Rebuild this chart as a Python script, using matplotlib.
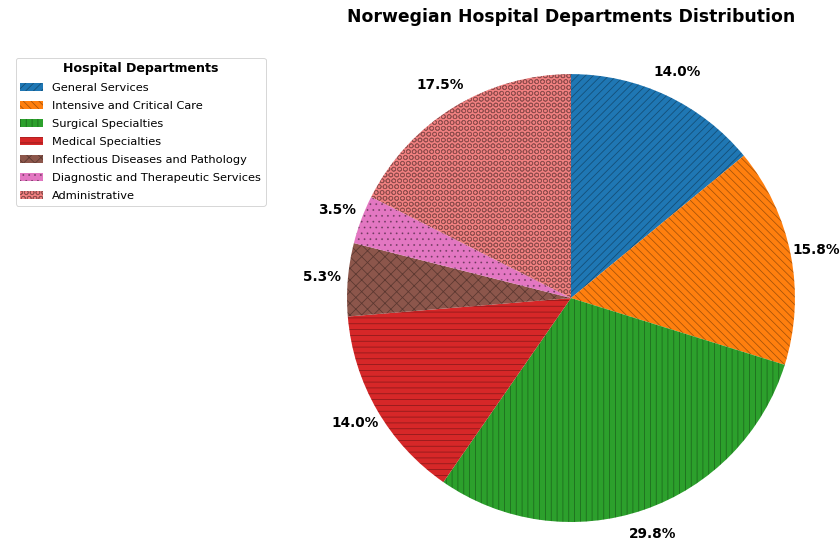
import matplotlib.pyplot as plt

departments = [
    "General Services",
    "Intensive and Critical Care",
    "Surgical Specialties",
    "Medical Specialties",
    "Infectious Diseases and Pathology",
    "Diagnostic and Therapeutic Services",
    "Administrative",
]
counts = [8, 9, 17, 8, 3, 2, 10]
hatches = ["///", "\\\\\\", "||", "--", "xx", "..", "OO"]
colors = ["#1f77b4", "#ff7f0e", "#2ca02c", "#d62728", "#8c564b", "#e377c2", "#f08080"]

# lighter, thinner hatch lines like the reference
plt.rcParams["hatch.color"] = (0, 0, 0, 0.35)
plt.rcParams["hatch.linewidth"] = 0.8

fig = plt.figure(figsize=(12, 542 / 70), dpi=70)
ax = fig.add_axes([0.3464, -0.0664, 0.6667, 1.033])

wedges, texts, autotexts = ax.pie(
    counts,
    colors=colors,
    autopct="%1.1f%%",
    startangle=90,
    counterclock=False,
    pctdistance=1.115,
)
for w, h in zip(wedges, hatches):
    w.set_hatch(h)
for t in autotexts:
    t.set_fontsize(14)
    t.set_fontweight("bold")

ax.set_xlim(-1.25, 1.25)
ax.set_ylim(-1.25, 1.25)
ax.set_aspect("equal")

fig.text(571 / 840, 1 - 17 / 542, "Norwegian Hospital Departments Distribution",
         ha="center", va="center", fontsize=17.8, fontweight="bold")

fig.legend(wedges, departments, title="Hospital Departments", loc="upper left",
           bbox_to_anchor=(10 / 840, 1 - 52 / 542), fontsize=11.7, labelspacing=0.7,
           title_fontproperties={"weight": "bold", "size": 13})

fig.savefig("out.png", dpi=70)
